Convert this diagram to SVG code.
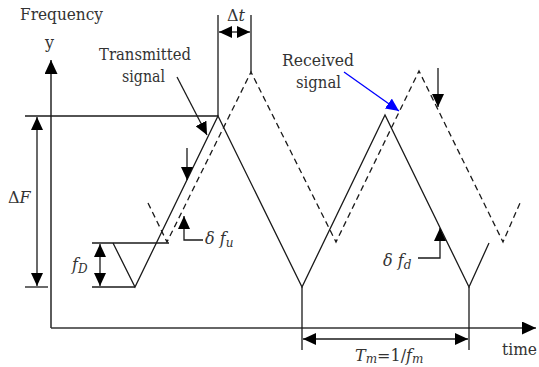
<svg xmlns="http://www.w3.org/2000/svg" width="539" height="367" viewBox="0 0 539 367">
<defs>
<style>
.ln{stroke:#1a1a1a;stroke-width:1.3;fill:none}
.ax{stroke:#333;stroke-width:1.6;fill:none}
.ds{stroke:#1a1a1a;stroke-width:1.3;fill:none;stroke-dasharray:6,4}
.t{font-family:"DejaVu Serif","Liberation Serif",serif;font-size:16px;fill:#333}
.w{font-size:17px}
.i{font-style:italic}
</style>
<marker id="ah" markerUnits="userSpaceOnUse" markerWidth="13" markerHeight="12" refX="13" refY="6" orient="auto-start-reverse" viewBox="0 0 13 12">
<path d="M0,0 L13,6 L0,12 z" fill="#000"/>
</marker>
<marker id="axh" markerUnits="userSpaceOnUse" markerWidth="14" markerHeight="13" refX="14" refY="6.5" orient="auto" viewBox="0 0 14 13">
<path d="M0,0 L14,6.5 L0,13 z" fill="#000"/>
</marker>
<marker id="bh" markerUnits="userSpaceOnUse" markerWidth="13" markerHeight="12" refX="13" refY="6" orient="auto" viewBox="0 0 13 12">
<path d="M0,0 L13,6 L0,12 z" fill="#0000ff"/>
</marker>
</defs>
<g id="axes">
<line class="ax" x1="51" y1="328" x2="51" y2="60" marker-end="url(#axh)"/>
<line class="ax" x1="51" y1="328" x2="536" y2="328" marker-end="url(#axh)"/>
</g>
<g id="transmitted-signal">
<polyline class="ln" points="113,243 135,287 218,116 302,287 385,115 469,287 489,243"/>
</g>
<g id="received-signal">
<polyline class="ds" points="148,203 167,242 251,72 336,242 419,71 503,242 520,203"/>
</g>
<g id="connectors">
<line class="ln" x1="25" y1="116" x2="218" y2="116"/>
<line class="ln" x1="25" y1="287" x2="48" y2="287"/>
<line class="ln" x1="92" y1="243" x2="169" y2="243"/>
<line class="ln" x1="92" y1="287" x2="135" y2="287"/>
<line class="ln" x1="218" y1="116" x2="218" y2="15"/>
<line class="ln" x1="251" y1="72" x2="251" y2="15"/>
<line class="ln" x1="302" y1="287" x2="302" y2="350"/>
<line class="ln" x1="469" y1="287" x2="469" y2="350"/>
<line class="ln" x1="37" y1="117" x2="37" y2="286" marker-start="url(#ah)" marker-end="url(#ah)"/>
<line class="ln" x1="100" y1="244" x2="100" y2="286" marker-start="url(#ah)" marker-end="url(#ah)"/>
<line class="ln" x1="219" y1="32" x2="250" y2="32" marker-start="url(#ah)" marker-end="url(#ah)"/>
<line class="ln" x1="303" y1="339" x2="468" y2="339" marker-start="url(#ah)" marker-end="url(#ah)"/>
<line class="ln" x1="177" y1="77" x2="207" y2="135" marker-end="url(#ah)"/>
<line class="ln" x1="187" y1="148" x2="187" y2="180" marker-end="url(#ah)"/>
<line class="ln" x1="438" y1="68" x2="438" y2="107" marker-end="url(#ah)"/>
<polyline class="ln" points="203,240 184,240 184,216" marker-end="url(#ah)"/>
<polyline class="ln" points="418,258 440,258 440,228" marker-end="url(#ah)"/>
<line x1="344" y1="72" x2="399" y2="111" stroke="#0000ff" stroke-width="1.3" marker-end="url(#bh)"/>
</g>
<g id="labels">
<text class="t w" x="20" y="20" textLength="83" lengthAdjust="spacingAndGlyphs">Frequency</text>
<text class="t" x="45" y="48">y</text>
<text class="t w" x="99" y="60" textLength="92" lengthAdjust="spacingAndGlyphs">Transmitted</text>
<text class="t w" x="122" y="82" textLength="43" lengthAdjust="spacingAndGlyphs">signal</text>
<text class="t w" x="282" y="66" textLength="72" lengthAdjust="spacingAndGlyphs">Received</text>
<text class="t w" x="296" y="88" textLength="45" lengthAdjust="spacingAndGlyphs">signal</text>
<text class="t" x="227" y="21">Δ<tspan class="i">t</tspan></text>
<text class="t" x="8" y="203">Δ<tspan class="i">F</tspan></text>
<text class="t" x="72" y="270"><tspan class="i">f</tspan><tspan class="i" font-size="12" dy="3">D</tspan></text>
<text class="t" x="205" y="244"><tspan class="i">δ</tspan> <tspan class="i">f</tspan><tspan class="i" font-size="12" dy="3">u</tspan></text>
<text class="t" x="383" y="266"><tspan class="i">δ</tspan> <tspan class="i">f</tspan><tspan class="i" font-size="12" dy="3">d</tspan></text>
<text class="t" x="502" y="355" textLength="35" lengthAdjust="spacingAndGlyphs">time</text>
<text class="t" x="355" y="361"><tspan class="i">T</tspan><tspan class="i" font-size="12" dy="2">m</tspan><tspan dy="-2">=1/</tspan><tspan class="i">f</tspan><tspan class="i" font-size="12" dy="2">m</tspan></text>
</g>
</svg>
